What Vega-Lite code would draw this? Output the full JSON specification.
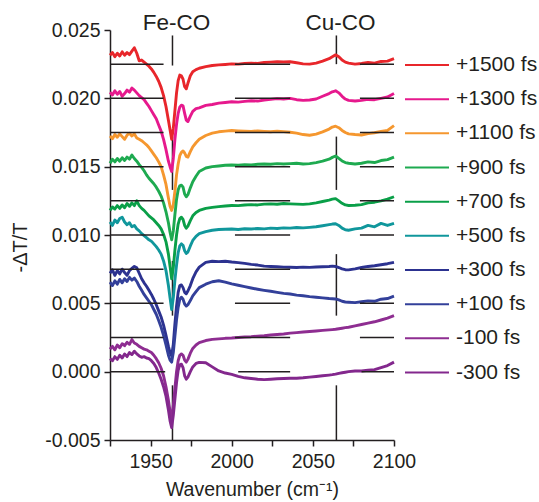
{
"$schema":"https://vega.github.io/schema/vega-lite/v6.json",
"width":284,"height":410,
"autosize":{"type":"none"},
"padding":{"left":110,"top":30,"right":145,"bottom":62},
"background":"white",
"config":{"view":{"stroke":null},"font":"Liberation Sans"},
"datasets":{
"vr":[{"w":1963.5,"a":0.0224,"b":0.0246},{"w":1963.5,"a":0.0133,"b":0.0172},{"w":1963.5,"a":0.0041,"b":0.0081},{"w":1963.5,"a":-0.005,"b":-0.001},{"w":2064.5,"a":0.0225,"b":0.0246},{"w":2064.5,"a":0.0133,"b":0.0172},{"w":2064.5,"a":0.0041,"b":0.0086},{"w":2064.5,"a":-0.005,"b":-0.001}],
"hr":[{"v":0.0225,"a":1925,"b":1958},{"v":0.0225,"a":2002,"b":2036},{"v":0.0225,"a":2079,"b":2100},
{"v":0.02,"a":1925,"b":1958},{"v":0.02,"a":2002,"b":2036},{"v":0.02,"a":2079,"b":2100},
{"v":0.0175,"a":1925,"b":1958},{"v":0.0175,"a":2002,"b":2036},{"v":0.0175,"a":2079,"b":2100},
{"v":0.015,"a":1925,"b":1958},{"v":0.015,"a":2002,"b":2036},{"v":0.015,"a":2079,"b":2100},
{"v":0.0125,"a":1925,"b":1958},{"v":0.0125,"a":2002,"b":2036},{"v":0.0125,"a":2079,"b":2100},
{"v":0.01,"a":1925,"b":1958},{"v":0.01,"a":2002,"b":2036},{"v":0.01,"a":2079,"b":2100},
{"v":0.0075,"a":1925,"b":1958},{"v":0.0075,"a":2002,"b":2036},{"v":0.0075,"a":2079,"b":2100},
{"v":0.005,"a":1925,"b":1958},{"v":0.005,"a":2002,"b":2036},{"v":0.005,"a":2079,"b":2100},
{"v":0.0025,"a":1925,"b":1958},{"v":0.0025,"a":2002,"b":2036},{"v":0.0025,"a":2079,"b":2100},
{"v":0.0,"a":1925,"b":1959},{"v":0.0,"a":2004,"b":2036},{"v":0.0,"a":2080,"b":2100}],
"lab":[{"t":"Fe-CO","w":1966,"v":0.025},{"t":"Cu-CO","w":2067,"v":0.025}],
"spec":[
{"s":"+1500 fs","w":1925,"v":0.02315},{"s":"+1500 fs","w":1926.5,"v":0.02335},{"s":"+1500 fs","w":1928,"v":0.02305},{"s":"+1500 fs","w":1929.5,"v":0.0233},{"s":"+1500 fs","w":1931,"v":0.0231},{"s":"+1500 fs","w":1932.5,"v":0.0234},{"s":"+1500 fs","w":1934,"v":0.02315},{"s":"+1500 fs","w":1935.5,"v":0.02335},{"s":"+1500 fs","w":1937,"v":0.0232},{"s":"+1500 fs","w":1938.5,"v":0.02345},{"s":"+1500 fs","w":1940,"v":0.0237},{"s":"+1500 fs","w":1941.5,"v":0.0233},{"s":"+1500 fs","w":1943,"v":0.02275},{"s":"+1500 fs","w":1944.5,"v":0.0228},{"s":"+1500 fs","w":1946,"v":0.02265},{"s":"+1500 fs","w":1947.5,"v":0.0225},{"s":"+1500 fs","w":1949,"v":0.02235},{"s":"+1500 fs","w":1950.5,"v":0.02215},{"s":"+1500 fs","w":1952,"v":0.0219},{"s":"+1500 fs","w":1953.5,"v":0.0216},{"s":"+1500 fs","w":1955,"v":0.02125},{"s":"+1500 fs","w":1956.5,"v":0.0208},
{"s":"+1500 fs","w":1958,"v":0.0202},{"s":"+1500 fs","w":1959.5,"v":0.0194},{"s":"+1500 fs","w":1961,"v":0.0184},{"s":"+1500 fs","w":1962,"v":0.0177},{"s":"+1500 fs","w":1963,"v":0.017},{"s":"+1500 fs","w":1964,"v":0.0178},{"s":"+1500 fs","w":1965,"v":0.0191},{"s":"+1500 fs","w":1966,"v":0.0204},{"s":"+1500 fs","w":1967,"v":0.0213},{"s":"+1500 fs","w":1968,"v":0.0217},{"s":"+1500 fs","w":1969,"v":0.02165},{"s":"+1500 fs","w":1970,"v":0.0214},{"s":"+1500 fs","w":1971,"v":0.02085},{"s":"+1500 fs","w":1972,"v":0.0207},{"s":"+1500 fs","w":1973,"v":0.0211},{"s":"+1500 fs","w":1974.5,"v":0.02165},{"s":"+1500 fs","w":1976,"v":0.02195},{"s":"+1500 fs","w":1978,"v":0.0221},
{"s":"+1500 fs","w":1980,"v":0.0222},{"s":"+1500 fs","w":1984,"v":0.02232},{"s":"+1500 fs","w":1988,"v":0.0224},{"s":"+1500 fs","w":1992,"v":0.02245},{"s":"+1500 fs","w":1996,"v":0.02248},{"s":"+1500 fs","w":2000,"v":0.02252},{"s":"+1500 fs","w":2004,"v":0.0225},{"s":"+1500 fs","w":2008,"v":0.02255},{"s":"+1500 fs","w":2012,"v":0.02258},{"s":"+1500 fs","w":2016,"v":0.02255},{"s":"+1500 fs","w":2020,"v":0.02262},{"s":"+1500 fs","w":2024,"v":0.02265},{"s":"+1500 fs","w":2028,"v":0.02268},{"s":"+1500 fs","w":2032,"v":0.02266},{"s":"+1500 fs","w":2036,"v":0.02268},{"s":"+1500 fs","w":2040,"v":0.0226},{"s":"+1500 fs","w":2044,"v":0.02252},{"s":"+1500 fs","w":2048,"v":0.0225},{"s":"+1500 fs","w":2052,"v":0.02258},{"s":"+1500 fs","w":2056,"v":0.02272},{"s":"+1500 fs","w":2060,"v":0.0229},
{"s":"+1500 fs","w":2062,"v":0.02305},{"s":"+1500 fs","w":2064,"v":0.02318},{"s":"+1500 fs","w":2066,"v":0.02305},{"s":"+1500 fs","w":2068,"v":0.0228},{"s":"+1500 fs","w":2070,"v":0.02265},{"s":"+1500 fs","w":2072,"v":0.02258},
{"s":"+1500 fs","w":2076,"v":0.0225},{"s":"+1500 fs","w":2080,"v":0.02255},{"s":"+1500 fs","w":2084,"v":0.02262},{"s":"+1500 fs","w":2088,"v":0.02258},{"s":"+1500 fs","w":2092,"v":0.0227},{"s":"+1500 fs","w":2096,"v":0.02272},{"s":"+1500 fs","w":2100,"v":0.0229},

{"s":"+1300 fs","w":1925,"v":0.02045},{"s":"+1300 fs","w":1926.5,"v":0.02025},{"s":"+1300 fs","w":1928,"v":0.02055},{"s":"+1300 fs","w":1929.5,"v":0.0203},{"s":"+1300 fs","w":1931,"v":0.0205},{"s":"+1300 fs","w":1932.5,"v":0.02015},{"s":"+1300 fs","w":1934,"v":0.02035},{"s":"+1300 fs","w":1935.5,"v":0.0206},{"s":"+1300 fs","w":1937,"v":0.02045},{"s":"+1300 fs","w":1938.5,"v":0.02075},{"s":"+1300 fs","w":1940,"v":0.0206},{"s":"+1300 fs","w":1941.5,"v":0.0204},{"s":"+1300 fs","w":1943,"v":0.0202},{"s":"+1300 fs","w":1944.5,"v":0.02005},{"s":"+1300 fs","w":1946,"v":0.0199},{"s":"+1300 fs","w":1947.5,"v":0.01965},{"s":"+1300 fs","w":1949,"v":0.0194},{"s":"+1300 fs","w":1950.5,"v":0.0191},{"s":"+1300 fs","w":1952,"v":0.0188},{"s":"+1300 fs","w":1953.5,"v":0.0185},{"s":"+1300 fs","w":1955,"v":0.01805},{"s":"+1300 fs","w":1956.5,"v":0.0176},
{"s":"+1300 fs","w":1958,"v":0.017},{"s":"+1300 fs","w":1959.5,"v":0.01625},{"s":"+1300 fs","w":1961,"v":0.0154},{"s":"+1300 fs","w":1962,"v":0.015},{"s":"+1300 fs","w":1963,"v":0.01465},{"s":"+1300 fs","w":1964,"v":0.0156},{"s":"+1300 fs","w":1965,"v":0.017},{"s":"+1300 fs","w":1966,"v":0.0181},{"s":"+1300 fs","w":1967,"v":0.0189},{"s":"+1300 fs","w":1968,"v":0.01935},{"s":"+1300 fs","w":1969,"v":0.0195},{"s":"+1300 fs","w":1970,"v":0.01945},{"s":"+1300 fs","w":1971,"v":0.0189},{"s":"+1300 fs","w":1972,"v":0.0184},{"s":"+1300 fs","w":1973,"v":0.0183},{"s":"+1300 fs","w":1974.5,"v":0.0187},{"s":"+1300 fs","w":1976,"v":0.01905},{"s":"+1300 fs","w":1978,"v":0.01925},
{"s":"+1300 fs","w":1980,"v":0.0193},{"s":"+1300 fs","w":1984,"v":0.01948},{"s":"+1300 fs","w":1988,"v":0.01955},{"s":"+1300 fs","w":1992,"v":0.01965},{"s":"+1300 fs","w":1996,"v":0.0197},{"s":"+1300 fs","w":2000,"v":0.01975},{"s":"+1300 fs","w":2004,"v":0.01972},{"s":"+1300 fs","w":2008,"v":0.01978},{"s":"+1300 fs","w":2012,"v":0.01982},{"s":"+1300 fs","w":2016,"v":0.0198},{"s":"+1300 fs","w":2020,"v":0.01988},{"s":"+1300 fs","w":2024,"v":0.01992},{"s":"+1300 fs","w":2028,"v":0.01998},{"s":"+1300 fs","w":2032,"v":0.01995},{"s":"+1300 fs","w":2036,"v":0.02},{"s":"+1300 fs","w":2040,"v":0.0199},{"s":"+1300 fs","w":2044,"v":0.01985},{"s":"+1300 fs","w":2048,"v":0.01988},{"s":"+1300 fs","w":2052,"v":0.01995},{"s":"+1300 fs","w":2056,"v":0.02015},{"s":"+1300 fs","w":2060,"v":0.02035},
{"s":"+1300 fs","w":2062,"v":0.02048},{"s":"+1300 fs","w":2064,"v":0.02055},{"s":"+1300 fs","w":2066,"v":0.0204},{"s":"+1300 fs","w":2068,"v":0.02015},{"s":"+1300 fs","w":2070,"v":0.01995},{"s":"+1300 fs","w":2072,"v":0.01985},
{"s":"+1300 fs","w":2076,"v":0.0198},{"s":"+1300 fs","w":2080,"v":0.01985},{"s":"+1300 fs","w":2084,"v":0.01992},{"s":"+1300 fs","w":2088,"v":0.0199},{"s":"+1300 fs","w":2092,"v":0.02},{"s":"+1300 fs","w":2096,"v":0.0201},{"s":"+1300 fs","w":2100,"v":0.02035},

{"s":"+1100 fs","w":1925,"v":0.01725},{"s":"+1100 fs","w":1926.5,"v":0.01705},{"s":"+1100 fs","w":1928,"v":0.01735},{"s":"+1100 fs","w":1929.5,"v":0.01715},{"s":"+1100 fs","w":1931,"v":0.0174},{"s":"+1100 fs","w":1932.5,"v":0.0172},{"s":"+1100 fs","w":1934,"v":0.017},{"s":"+1100 fs","w":1935.5,"v":0.0173},{"s":"+1100 fs","w":1937,"v":0.01745},{"s":"+1100 fs","w":1938.5,"v":0.01725},{"s":"+1100 fs","w":1940,"v":0.0174},{"s":"+1100 fs","w":1941.5,"v":0.0171},{"s":"+1100 fs","w":1943,"v":0.017},{"s":"+1100 fs","w":1944.5,"v":0.0169},{"s":"+1100 fs","w":1946,"v":0.01675},{"s":"+1100 fs","w":1947.5,"v":0.0166},{"s":"+1100 fs","w":1949,"v":0.0164},{"s":"+1100 fs","w":1950.5,"v":0.01615},{"s":"+1100 fs","w":1952,"v":0.0159},{"s":"+1100 fs","w":1953.5,"v":0.01565},{"s":"+1100 fs","w":1955,"v":0.01535},{"s":"+1100 fs","w":1956.5,"v":0.015},
{"s":"+1100 fs","w":1958,"v":0.0144},{"s":"+1100 fs","w":1959.5,"v":0.0137},{"s":"+1100 fs","w":1961,"v":0.0127},{"s":"+1100 fs","w":1962,"v":0.0121},{"s":"+1100 fs","w":1963,"v":0.0118},{"s":"+1100 fs","w":1964,"v":0.0122},{"s":"+1100 fs","w":1965,"v":0.0132},{"s":"+1100 fs","w":1966,"v":0.0144},{"s":"+1100 fs","w":1967,"v":0.0152},{"s":"+1100 fs","w":1968,"v":0.0158},{"s":"+1100 fs","w":1969,"v":0.01605},{"s":"+1100 fs","w":1970,"v":0.01615},{"s":"+1100 fs","w":1971,"v":0.016},{"s":"+1100 fs","w":1972,"v":0.01575},{"s":"+1100 fs","w":1973,"v":0.0157},{"s":"+1100 fs","w":1974.5,"v":0.0161},{"s":"+1100 fs","w":1976,"v":0.01645},{"s":"+1100 fs","w":1978,"v":0.01675},
{"s":"+1100 fs","w":1980,"v":0.017},{"s":"+1100 fs","w":1984,"v":0.01728},{"s":"+1100 fs","w":1988,"v":0.01745},{"s":"+1100 fs","w":1992,"v":0.01755},{"s":"+1100 fs","w":1996,"v":0.0176},{"s":"+1100 fs","w":2000,"v":0.01765},{"s":"+1100 fs","w":2004,"v":0.01762},{"s":"+1100 fs","w":2008,"v":0.0176},{"s":"+1100 fs","w":2012,"v":0.01758},{"s":"+1100 fs","w":2016,"v":0.01762},{"s":"+1100 fs","w":2020,"v":0.01758},{"s":"+1100 fs","w":2024,"v":0.01755},{"s":"+1100 fs","w":2028,"v":0.0176},{"s":"+1100 fs","w":2032,"v":0.01756},{"s":"+1100 fs","w":2036,"v":0.01752},{"s":"+1100 fs","w":2040,"v":0.01745},{"s":"+1100 fs","w":2044,"v":0.01735},{"s":"+1100 fs","w":2048,"v":0.0173},{"s":"+1100 fs","w":2052,"v":0.01738},{"s":"+1100 fs","w":2056,"v":0.01755},{"s":"+1100 fs","w":2060,"v":0.01775},
{"s":"+1100 fs","w":2062,"v":0.0179},{"s":"+1100 fs","w":2064,"v":0.01796},{"s":"+1100 fs","w":2066,"v":0.01785},{"s":"+1100 fs","w":2068,"v":0.01765},{"s":"+1100 fs","w":2070,"v":0.0175},{"s":"+1100 fs","w":2072,"v":0.0174},
{"s":"+1100 fs","w":2076,"v":0.01735},{"s":"+1100 fs","w":2080,"v":0.01732},{"s":"+1100 fs","w":2084,"v":0.01742},{"s":"+1100 fs","w":2088,"v":0.01748},{"s":"+1100 fs","w":2092,"v":0.01758},{"s":"+1100 fs","w":2096,"v":0.01765},{"s":"+1100 fs","w":2100,"v":0.018},

{"s":"+900 fs","w":1925,"v":0.01525},{"s":"+900 fs","w":1926.5,"v":0.01555},{"s":"+900 fs","w":1928,"v":0.01535},{"s":"+900 fs","w":1929.5,"v":0.0156},{"s":"+900 fs","w":1931,"v":0.0154},{"s":"+900 fs","w":1932.5,"v":0.01565},{"s":"+900 fs","w":1934,"v":0.01545},{"s":"+900 fs","w":1935.5,"v":0.0157},{"s":"+900 fs","w":1937,"v":0.01555},{"s":"+900 fs","w":1938.5,"v":0.01585},{"s":"+900 fs","w":1940,"v":0.0156},{"s":"+900 fs","w":1941.5,"v":0.0154},{"s":"+900 fs","w":1943,"v":0.01515},{"s":"+900 fs","w":1944.5,"v":0.01495},{"s":"+900 fs","w":1946,"v":0.0147},{"s":"+900 fs","w":1947.5,"v":0.0144},{"s":"+900 fs","w":1949,"v":0.01415},{"s":"+900 fs","w":1950.5,"v":0.01395},{"s":"+900 fs","w":1952,"v":0.01375},{"s":"+900 fs","w":1953.5,"v":0.0135},{"s":"+900 fs","w":1955,"v":0.0132},{"s":"+900 fs","w":1956.5,"v":0.01285},
{"s":"+900 fs","w":1958,"v":0.01235},{"s":"+900 fs","w":1959.5,"v":0.0117},{"s":"+900 fs","w":1961,"v":0.0109},{"s":"+900 fs","w":1962,"v":0.0102},{"s":"+900 fs","w":1963,"v":0.00965},{"s":"+900 fs","w":1964,"v":0.0103},{"s":"+900 fs","w":1965,"v":0.0115},{"s":"+900 fs","w":1966,"v":0.0126},{"s":"+900 fs","w":1967,"v":0.0133},{"s":"+900 fs","w":1968,"v":0.0136},{"s":"+900 fs","w":1969,"v":0.01365},{"s":"+900 fs","w":1970,"v":0.0135},{"s":"+900 fs","w":1971,"v":0.013},{"s":"+900 fs","w":1972,"v":0.0128},{"s":"+900 fs","w":1973,"v":0.01295},{"s":"+900 fs","w":1974.5,"v":0.01345},{"s":"+900 fs","w":1976,"v":0.0139},{"s":"+900 fs","w":1978,"v":0.0143},
{"s":"+900 fs","w":1980,"v":0.01465},{"s":"+900 fs","w":1984,"v":0.0149},{"s":"+900 fs","w":1988,"v":0.015},{"s":"+900 fs","w":1992,"v":0.01505},{"s":"+900 fs","w":1996,"v":0.0151},{"s":"+900 fs","w":2000,"v":0.01512},{"s":"+900 fs","w":2004,"v":0.0151},{"s":"+900 fs","w":2008,"v":0.01515},{"s":"+900 fs","w":2012,"v":0.01512},{"s":"+900 fs","w":2016,"v":0.01518},{"s":"+900 fs","w":2020,"v":0.0152},{"s":"+900 fs","w":2024,"v":0.01518},{"s":"+900 fs","w":2028,"v":0.01522},{"s":"+900 fs","w":2032,"v":0.0152},{"s":"+900 fs","w":2036,"v":0.01522},{"s":"+900 fs","w":2040,"v":0.01525},{"s":"+900 fs","w":2044,"v":0.0152},{"s":"+900 fs","w":2048,"v":0.01522},{"s":"+900 fs","w":2052,"v":0.0153},{"s":"+900 fs","w":2056,"v":0.0154},{"s":"+900 fs","w":2060,"v":0.01555},
{"s":"+900 fs","w":2062,"v":0.01568},{"s":"+900 fs","w":2064,"v":0.01578},{"s":"+900 fs","w":2066,"v":0.0156},{"s":"+900 fs","w":2068,"v":0.01542},{"s":"+900 fs","w":2070,"v":0.0153},{"s":"+900 fs","w":2072,"v":0.01525},
{"s":"+900 fs","w":2076,"v":0.0152},{"s":"+900 fs","w":2080,"v":0.01525},{"s":"+900 fs","w":2084,"v":0.01535},{"s":"+900 fs","w":2088,"v":0.0153},{"s":"+900 fs","w":2092,"v":0.01545},{"s":"+900 fs","w":2096,"v":0.01552},{"s":"+900 fs","w":2100,"v":0.0157},

{"s":"+700 fs","w":1925,"v":0.0118},{"s":"+700 fs","w":1926.5,"v":0.01205},{"s":"+700 fs","w":1928,"v":0.0119},{"s":"+700 fs","w":1929.5,"v":0.01215},{"s":"+700 fs","w":1931,"v":0.01195},{"s":"+700 fs","w":1932.5,"v":0.0122},{"s":"+700 fs","w":1934,"v":0.012},{"s":"+700 fs","w":1935.5,"v":0.0123},{"s":"+700 fs","w":1937,"v":0.0121},{"s":"+700 fs","w":1938.5,"v":0.01235},{"s":"+700 fs","w":1940,"v":0.01215},{"s":"+700 fs","w":1941.5,"v":0.0125},{"s":"+700 fs","w":1943,"v":0.01215},{"s":"+700 fs","w":1944.5,"v":0.01195},{"s":"+700 fs","w":1946,"v":0.0118},{"s":"+700 fs","w":1947.5,"v":0.0116},{"s":"+700 fs","w":1949,"v":0.0114},{"s":"+700 fs","w":1950.5,"v":0.01125},{"s":"+700 fs","w":1952,"v":0.0111},{"s":"+700 fs","w":1953.5,"v":0.0109},{"s":"+700 fs","w":1955,"v":0.0107},{"s":"+700 fs","w":1956.5,"v":0.01045},
{"s":"+700 fs","w":1958,"v":0.01005},{"s":"+700 fs","w":1959.5,"v":0.0095},{"s":"+700 fs","w":1961,"v":0.0086},{"s":"+700 fs","w":1962,"v":0.0077},{"s":"+700 fs","w":1963,"v":0.0068},{"s":"+700 fs","w":1964,"v":0.0076},{"s":"+700 fs","w":1965,"v":0.0089},{"s":"+700 fs","w":1966,"v":0.01},{"s":"+700 fs","w":1967,"v":0.0108},{"s":"+700 fs","w":1968,"v":0.0112},{"s":"+700 fs","w":1969,"v":0.0113},{"s":"+700 fs","w":1970,"v":0.01115},{"s":"+700 fs","w":1971,"v":0.0107},{"s":"+700 fs","w":1972,"v":0.0105},{"s":"+700 fs","w":1973,"v":0.01065},{"s":"+700 fs","w":1974.5,"v":0.01105},{"s":"+700 fs","w":1976,"v":0.0114},{"s":"+700 fs","w":1978,"v":0.01165},
{"s":"+700 fs","w":1980,"v":0.0118},{"s":"+700 fs","w":1984,"v":0.01195},{"s":"+700 fs","w":1988,"v":0.01202},{"s":"+700 fs","w":1992,"v":0.01208},{"s":"+700 fs","w":1996,"v":0.01212},{"s":"+700 fs","w":2000,"v":0.01216},{"s":"+700 fs","w":2004,"v":0.01215},{"s":"+700 fs","w":2008,"v":0.0122},{"s":"+700 fs","w":2012,"v":0.01222},{"s":"+700 fs","w":2016,"v":0.0122},{"s":"+700 fs","w":2020,"v":0.01226},{"s":"+700 fs","w":2024,"v":0.01228},{"s":"+700 fs","w":2028,"v":0.01225},{"s":"+700 fs","w":2032,"v":0.0123},{"s":"+700 fs","w":2036,"v":0.01228},{"s":"+700 fs","w":2040,"v":0.01226},{"s":"+700 fs","w":2044,"v":0.01224},{"s":"+700 fs","w":2048,"v":0.01228},{"s":"+700 fs","w":2052,"v":0.01235},{"s":"+700 fs","w":2056,"v":0.01245},{"s":"+700 fs","w":2060,"v":0.01255},
{"s":"+700 fs","w":2062,"v":0.01262},{"s":"+700 fs","w":2064,"v":0.01266},{"s":"+700 fs","w":2066,"v":0.0125},{"s":"+700 fs","w":2068,"v":0.01232},{"s":"+700 fs","w":2070,"v":0.0122},{"s":"+700 fs","w":2072,"v":0.01216},
{"s":"+700 fs","w":2076,"v":0.01218},{"s":"+700 fs","w":2080,"v":0.01222},{"s":"+700 fs","w":2084,"v":0.01235},{"s":"+700 fs","w":2088,"v":0.0124},{"s":"+700 fs","w":2092,"v":0.0125},{"s":"+700 fs","w":2096,"v":0.01262},{"s":"+700 fs","w":2100,"v":0.0128},

{"s":"+500 fs","w":1925,"v":0.01095},{"s":"+500 fs","w":1926.5,"v":0.0107},{"s":"+500 fs","w":1928,"v":0.0111},{"s":"+500 fs","w":1929.5,"v":0.0109},{"s":"+500 fs","w":1931,"v":0.0112},{"s":"+500 fs","w":1932.5,"v":0.0113},{"s":"+500 fs","w":1934,"v":0.01095},{"s":"+500 fs","w":1935.5,"v":0.01075},{"s":"+500 fs","w":1937,"v":0.0109},{"s":"+500 fs","w":1938.5,"v":0.0106},{"s":"+500 fs","w":1940,"v":0.0107},{"s":"+500 fs","w":1941.5,"v":0.01045},{"s":"+500 fs","w":1943,"v":0.0103},{"s":"+500 fs","w":1944.5,"v":0.0101},{"s":"+500 fs","w":1946,"v":0.00995},{"s":"+500 fs","w":1947.5,"v":0.0098},{"s":"+500 fs","w":1949,"v":0.00965},{"s":"+500 fs","w":1950.5,"v":0.00955},{"s":"+500 fs","w":1952,"v":0.00935},{"s":"+500 fs","w":1953.5,"v":0.00915},{"s":"+500 fs","w":1955,"v":0.0089},{"s":"+500 fs","w":1956.5,"v":0.0086},
{"s":"+500 fs","w":1958,"v":0.0081},{"s":"+500 fs","w":1959.5,"v":0.0074},{"s":"+500 fs","w":1961,"v":0.0063},{"s":"+500 fs","w":1962,"v":0.0054},{"s":"+500 fs","w":1963,"v":0.00455},{"s":"+500 fs","w":1964,"v":0.0054},{"s":"+500 fs","w":1965,"v":0.0067},{"s":"+500 fs","w":1966,"v":0.0078},{"s":"+500 fs","w":1967,"v":0.0087},{"s":"+500 fs","w":1968,"v":0.0092},{"s":"+500 fs","w":1969,"v":0.00935},{"s":"+500 fs","w":1970,"v":0.00925},{"s":"+500 fs","w":1971,"v":0.00885},{"s":"+500 fs","w":1972,"v":0.00865},{"s":"+500 fs","w":1973,"v":0.00875},{"s":"+500 fs","w":1974.5,"v":0.0092},{"s":"+500 fs","w":1976,"v":0.0096},{"s":"+500 fs","w":1978,"v":0.0099},
{"s":"+500 fs","w":1980,"v":0.0101},{"s":"+500 fs","w":1984,"v":0.01025},{"s":"+500 fs","w":1988,"v":0.01035},{"s":"+500 fs","w":1992,"v":0.0104},{"s":"+500 fs","w":1996,"v":0.01042},{"s":"+500 fs","w":2000,"v":0.01044},{"s":"+500 fs","w":2004,"v":0.0104},{"s":"+500 fs","w":2008,"v":0.01046},{"s":"+500 fs","w":2012,"v":0.01044},{"s":"+500 fs","w":2016,"v":0.01048},{"s":"+500 fs","w":2020,"v":0.01045},{"s":"+500 fs","w":2024,"v":0.0105},{"s":"+500 fs","w":2028,"v":0.01048},{"s":"+500 fs","w":2032,"v":0.01052},{"s":"+500 fs","w":2036,"v":0.0105},{"s":"+500 fs","w":2040,"v":0.01055},{"s":"+500 fs","w":2044,"v":0.01052},{"s":"+500 fs","w":2048,"v":0.01056},{"s":"+500 fs","w":2052,"v":0.0106},{"s":"+500 fs","w":2056,"v":0.01068},{"s":"+500 fs","w":2060,"v":0.01076},
{"s":"+500 fs","w":2062,"v":0.0108},{"s":"+500 fs","w":2064,"v":0.01082},{"s":"+500 fs","w":2066,"v":0.0107},{"s":"+500 fs","w":2068,"v":0.0105},{"s":"+500 fs","w":2070,"v":0.01038},{"s":"+500 fs","w":2072,"v":0.01035},
{"s":"+500 fs","w":2076,"v":0.01045},{"s":"+500 fs","w":2080,"v":0.0105},{"s":"+500 fs","w":2084,"v":0.0107},{"s":"+500 fs","w":2088,"v":0.0106},{"s":"+500 fs","w":2092,"v":0.01085},{"s":"+500 fs","w":2096,"v":0.0107},{"s":"+500 fs","w":2100,"v":0.01085},

{"s":"+300 fs","w":1925,"v":0.0072},{"s":"+300 fs","w":1926.5,"v":0.00745},{"s":"+300 fs","w":1928,"v":0.00705},{"s":"+300 fs","w":1929.5,"v":0.0074},{"s":"+300 fs","w":1931,"v":0.00715},{"s":"+300 fs","w":1932.5,"v":0.0075},{"s":"+300 fs","w":1934,"v":0.00725},{"s":"+300 fs","w":1935.5,"v":0.00705},{"s":"+300 fs","w":1937,"v":0.0074},{"s":"+300 fs","w":1938.5,"v":0.00755},{"s":"+300 fs","w":1940,"v":0.0077},{"s":"+300 fs","w":1941.5,"v":0.0076},{"s":"+300 fs","w":1943,"v":0.0072},{"s":"+300 fs","w":1944.5,"v":0.0068},{"s":"+300 fs","w":1946,"v":0.0065},{"s":"+300 fs","w":1947.5,"v":0.00625},{"s":"+300 fs","w":1949,"v":0.00595},{"s":"+300 fs","w":1950.5,"v":0.00565},{"s":"+300 fs","w":1952,"v":0.0053},{"s":"+300 fs","w":1953.5,"v":0.0049},{"s":"+300 fs","w":1955,"v":0.00445},{"s":"+300 fs","w":1956.5,"v":0.004},
{"s":"+300 fs","w":1958,"v":0.0034},{"s":"+300 fs","w":1959.5,"v":0.00265},{"s":"+300 fs","w":1961,"v":0.00185},{"s":"+300 fs","w":1962,"v":0.0014},{"s":"+300 fs","w":1963,"v":0.00115},{"s":"+300 fs","w":1964,"v":0.002},{"s":"+300 fs","w":1965,"v":0.0035},{"s":"+300 fs","w":1966,"v":0.0048},{"s":"+300 fs","w":1967,"v":0.0058},{"s":"+300 fs","w":1968,"v":0.0063},{"s":"+300 fs","w":1969,"v":0.00635},{"s":"+300 fs","w":1970,"v":0.00615},{"s":"+300 fs","w":1971,"v":0.0058},{"s":"+300 fs","w":1972,"v":0.0057},{"s":"+300 fs","w":1973,"v":0.0059},{"s":"+300 fs","w":1974.5,"v":0.0063},{"s":"+300 fs","w":1976,"v":0.0068},{"s":"+300 fs","w":1978,"v":0.0073},
{"s":"+300 fs","w":1980,"v":0.00765},{"s":"+300 fs","w":1984,"v":0.008},{"s":"+300 fs","w":1988,"v":0.00808},{"s":"+300 fs","w":1992,"v":0.00805},{"s":"+300 fs","w":1996,"v":0.00808},{"s":"+300 fs","w":2000,"v":0.00802},{"s":"+300 fs","w":2004,"v":0.00798},{"s":"+300 fs","w":2008,"v":0.00792},{"s":"+300 fs","w":2012,"v":0.00785},{"s":"+300 fs","w":2016,"v":0.0078},{"s":"+300 fs","w":2020,"v":0.00772},{"s":"+300 fs","w":2024,"v":0.0077},{"s":"+300 fs","w":2028,"v":0.00768},{"s":"+300 fs","w":2032,"v":0.00765},{"s":"+300 fs","w":2036,"v":0.00764},{"s":"+300 fs","w":2040,"v":0.00762},{"s":"+300 fs","w":2044,"v":0.00765},{"s":"+300 fs","w":2048,"v":0.00763},{"s":"+300 fs","w":2052,"v":0.00766},{"s":"+300 fs","w":2056,"v":0.00768},{"s":"+300 fs","w":2060,"v":0.0077},
{"s":"+300 fs","w":2062,"v":0.00772},{"s":"+300 fs","w":2064,"v":0.0077},{"s":"+300 fs","w":2066,"v":0.00762},{"s":"+300 fs","w":2068,"v":0.00752},{"s":"+300 fs","w":2070,"v":0.00746},{"s":"+300 fs","w":2072,"v":0.00745},
{"s":"+300 fs","w":2076,"v":0.00752},{"s":"+300 fs","w":2080,"v":0.00762},{"s":"+300 fs","w":2084,"v":0.0077},{"s":"+300 fs","w":2088,"v":0.00775},{"s":"+300 fs","w":2092,"v":0.00782},{"s":"+300 fs","w":2096,"v":0.0079},{"s":"+300 fs","w":2100,"v":0.008},

{"s":"+100 fs","w":1925,"v":0.00655},{"s":"+100 fs","w":1926.5,"v":0.0063},{"s":"+100 fs","w":1928,"v":0.00665},{"s":"+100 fs","w":1929.5,"v":0.0064},{"s":"+100 fs","w":1931,"v":0.00675},{"s":"+100 fs","w":1932.5,"v":0.0065},{"s":"+100 fs","w":1934,"v":0.0068},{"s":"+100 fs","w":1935.5,"v":0.0066},{"s":"+100 fs","w":1937,"v":0.0069},{"s":"+100 fs","w":1938.5,"v":0.0067},{"s":"+100 fs","w":1940,"v":0.00685},{"s":"+100 fs","w":1941.5,"v":0.0066},{"s":"+100 fs","w":1943,"v":0.00625},{"s":"+100 fs","w":1944.5,"v":0.00595},{"s":"+100 fs","w":1946,"v":0.00565},{"s":"+100 fs","w":1947.5,"v":0.0054},{"s":"+100 fs","w":1949,"v":0.00515},{"s":"+100 fs","w":1950.5,"v":0.0049},{"s":"+100 fs","w":1952,"v":0.00455},{"s":"+100 fs","w":1953.5,"v":0.0042},{"s":"+100 fs","w":1955,"v":0.00375},{"s":"+100 fs","w":1956.5,"v":0.00325},
{"s":"+100 fs","w":1958,"v":0.00265},{"s":"+100 fs","w":1959.5,"v":0.00195},{"s":"+100 fs","w":1961,"v":0.0012},{"s":"+100 fs","w":1962,"v":0.00085},{"s":"+100 fs","w":1963,"v":0.0007},{"s":"+100 fs","w":1964,"v":0.0014},{"s":"+100 fs","w":1965,"v":0.0026},{"s":"+100 fs","w":1966,"v":0.0038},{"s":"+100 fs","w":1967,"v":0.0047},{"s":"+100 fs","w":1968,"v":0.0053},{"s":"+100 fs","w":1969,"v":0.00545},{"s":"+100 fs","w":1970,"v":0.0053},{"s":"+100 fs","w":1971,"v":0.00495},{"s":"+100 fs","w":1972,"v":0.0048},{"s":"+100 fs","w":1973,"v":0.0049},{"s":"+100 fs","w":1974.5,"v":0.0052},{"s":"+100 fs","w":1976,"v":0.00555},{"s":"+100 fs","w":1978,"v":0.00585},
{"s":"+100 fs","w":1980,"v":0.00615},{"s":"+100 fs","w":1984,"v":0.0064},{"s":"+100 fs","w":1988,"v":0.00658},{"s":"+100 fs","w":1992,"v":0.00665},{"s":"+100 fs","w":1996,"v":0.00655},{"s":"+100 fs","w":2000,"v":0.00642},{"s":"+100 fs","w":2004,"v":0.00632},{"s":"+100 fs","w":2008,"v":0.00622},{"s":"+100 fs","w":2012,"v":0.00612},{"s":"+100 fs","w":2016,"v":0.00603},{"s":"+100 fs","w":2020,"v":0.00595},{"s":"+100 fs","w":2024,"v":0.00588},{"s":"+100 fs","w":2028,"v":0.0058},{"s":"+100 fs","w":2032,"v":0.00573},{"s":"+100 fs","w":2036,"v":0.00568},{"s":"+100 fs","w":2040,"v":0.0056},{"s":"+100 fs","w":2044,"v":0.00555},{"s":"+100 fs","w":2048,"v":0.00549},{"s":"+100 fs","w":2052,"v":0.00545},{"s":"+100 fs","w":2056,"v":0.0054},{"s":"+100 fs","w":2060,"v":0.00535},
{"s":"+100 fs","w":2062,"v":0.00534},{"s":"+100 fs","w":2064,"v":0.00532},{"s":"+100 fs","w":2066,"v":0.00525},{"s":"+100 fs","w":2068,"v":0.00515},{"s":"+100 fs","w":2070,"v":0.0051},{"s":"+100 fs","w":2072,"v":0.00508},
{"s":"+100 fs","w":2076,"v":0.00505},{"s":"+100 fs","w":2080,"v":0.00512},{"s":"+100 fs","w":2084,"v":0.00518},{"s":"+100 fs","w":2088,"v":0.00515},{"s":"+100 fs","w":2092,"v":0.0053},{"s":"+100 fs","w":2096,"v":0.00535},{"s":"+100 fs","w":2100,"v":0.00552},

{"s":"-100 fs","w":1925,"v":0.00165},{"s":"-100 fs","w":1926.5,"v":0.00185},{"s":"-100 fs","w":1928,"v":0.0016},{"s":"-100 fs","w":1929.5,"v":0.00195},{"s":"-100 fs","w":1931,"v":0.00175},{"s":"-100 fs","w":1932.5,"v":0.00205},{"s":"-100 fs","w":1934,"v":0.0019},{"s":"-100 fs","w":1935.5,"v":0.00215},{"s":"-100 fs","w":1937,"v":0.002},{"s":"-100 fs","w":1938.5,"v":0.00235},{"s":"-100 fs","w":1940,"v":0.0021},{"s":"-100 fs","w":1941.5,"v":0.002},{"s":"-100 fs","w":1943,"v":0.00185},{"s":"-100 fs","w":1944.5,"v":0.00175},{"s":"-100 fs","w":1946,"v":0.00165},{"s":"-100 fs","w":1947.5,"v":0.0016},{"s":"-100 fs","w":1949,"v":0.0015},{"s":"-100 fs","w":1950.5,"v":0.0014},{"s":"-100 fs","w":1952,"v":0.0012},{"s":"-100 fs","w":1953.5,"v":0.00095},{"s":"-100 fs","w":1955,"v":0.00065},{"s":"-100 fs","w":1956.5,"v":0.00025},
{"s":"-100 fs","w":1958,"v":-0.0003},{"s":"-100 fs","w":1959.5,"v":-0.0011},{"s":"-100 fs","w":1961,"v":-0.0021},{"s":"-100 fs","w":1962,"v":-0.0029},{"s":"-100 fs","w":1963,"v":-0.0034},{"s":"-100 fs","w":1964,"v":-0.0025},{"s":"-100 fs","w":1965,"v":-0.0012},{"s":"-100 fs","w":1966,"v":0.0},{"s":"-100 fs","w":1967,"v":0.0008},{"s":"-100 fs","w":1968,"v":0.0012},{"s":"-100 fs","w":1969,"v":0.0013},{"s":"-100 fs","w":1970,"v":0.0012},{"s":"-100 fs","w":1971,"v":0.00085},{"s":"-100 fs","w":1972,"v":0.0007},{"s":"-100 fs","w":1973,"v":0.0009},{"s":"-100 fs","w":1974.5,"v":0.00135},{"s":"-100 fs","w":1976,"v":0.0017},{"s":"-100 fs","w":1978,"v":0.00195},
{"s":"-100 fs","w":1980,"v":0.00212},{"s":"-100 fs","w":1984,"v":0.00228},{"s":"-100 fs","w":1988,"v":0.00236},{"s":"-100 fs","w":1992,"v":0.0024},{"s":"-100 fs","w":1996,"v":0.00244},{"s":"-100 fs","w":2000,"v":0.00246},{"s":"-100 fs","w":2004,"v":0.0025},{"s":"-100 fs","w":2008,"v":0.00254},{"s":"-100 fs","w":2012,"v":0.00256},{"s":"-100 fs","w":2016,"v":0.0026},{"s":"-100 fs","w":2020,"v":0.00263},{"s":"-100 fs","w":2024,"v":0.00268},{"s":"-100 fs","w":2028,"v":0.00272},{"s":"-100 fs","w":2032,"v":0.00276},{"s":"-100 fs","w":2036,"v":0.00282},{"s":"-100 fs","w":2040,"v":0.00286},{"s":"-100 fs","w":2044,"v":0.0029},{"s":"-100 fs","w":2048,"v":0.00294},{"s":"-100 fs","w":2052,"v":0.00298},{"s":"-100 fs","w":2056,"v":0.00302},{"s":"-100 fs","w":2060,"v":0.00306},
{"s":"-100 fs","w":2062,"v":0.00308},{"s":"-100 fs","w":2064,"v":0.0031},{"s":"-100 fs","w":2066,"v":0.00314},{"s":"-100 fs","w":2068,"v":0.00318},{"s":"-100 fs","w":2070,"v":0.00322},{"s":"-100 fs","w":2072,"v":0.00325},
{"s":"-100 fs","w":2076,"v":0.00335},{"s":"-100 fs","w":2080,"v":0.00345},{"s":"-100 fs","w":2084,"v":0.00355},{"s":"-100 fs","w":2088,"v":0.00365},{"s":"-100 fs","w":2092,"v":0.00378},{"s":"-100 fs","w":2096,"v":0.00392},{"s":"-100 fs","w":2100,"v":0.0041},

{"s":"-300 fs","w":1925,"v":0.00095},{"s":"-300 fs","w":1926.5,"v":0.0008},{"s":"-300 fs","w":1928,"v":0.0011},{"s":"-300 fs","w":1929.5,"v":0.0009},{"s":"-300 fs","w":1931,"v":0.0012},{"s":"-300 fs","w":1932.5,"v":0.001},{"s":"-300 fs","w":1934,"v":0.0013},{"s":"-300 fs","w":1935.5,"v":0.0011},{"s":"-300 fs","w":1937,"v":0.0014},{"s":"-300 fs","w":1938.5,"v":0.00125},{"s":"-300 fs","w":1940,"v":0.0015},{"s":"-300 fs","w":1941.5,"v":0.0013},{"s":"-300 fs","w":1943,"v":0.00115},{"s":"-300 fs","w":1944.5,"v":0.00105},{"s":"-300 fs","w":1946,"v":0.0011},{"s":"-300 fs","w":1947.5,"v":0.001},{"s":"-300 fs","w":1949,"v":0.00095},{"s":"-300 fs","w":1950.5,"v":0.0008},{"s":"-300 fs","w":1952,"v":0.0006},{"s":"-300 fs","w":1953.5,"v":0.0003},{"s":"-300 fs","w":1955,"v":-0.0001},{"s":"-300 fs","w":1956.5,"v":-0.00055},
{"s":"-300 fs","w":1958,"v":-0.0011},{"s":"-300 fs","w":1959.5,"v":-0.0018},{"s":"-300 fs","w":1961,"v":-0.0028},{"s":"-300 fs","w":1962,"v":-0.0036},{"s":"-300 fs","w":1963,"v":-0.0041},{"s":"-300 fs","w":1964,"v":-0.0032},{"s":"-300 fs","w":1965,"v":-0.002},{"s":"-300 fs","w":1966,"v":-0.0008},{"s":"-300 fs","w":1967,"v":0.0001},{"s":"-300 fs","w":1968,"v":0.0005},{"s":"-300 fs","w":1969,"v":0.00055},{"s":"-300 fs","w":1970,"v":0.0003},{"s":"-300 fs","w":1971,"v":-0.0003},{"s":"-300 fs","w":1972,"v":-0.00055},{"s":"-300 fs","w":1973,"v":-0.0004},{"s":"-300 fs","w":1974.5,"v":0.0},{"s":"-300 fs","w":1976,"v":0.00035},{"s":"-300 fs","w":1978,"v":0.0006},
{"s":"-300 fs","w":1980,"v":0.00068},{"s":"-300 fs","w":1984,"v":0.00065},{"s":"-300 fs","w":1988,"v":0.00035},{"s":"-300 fs","w":1992,"v":0.00005},{"s":"-300 fs","w":1996,"v":-0.0001},{"s":"-300 fs","w":2000,"v":-0.0002},{"s":"-300 fs","w":2004,"v":-0.00035},{"s":"-300 fs","w":2008,"v":-0.00045},{"s":"-300 fs","w":2012,"v":-0.0005},{"s":"-300 fs","w":2016,"v":-0.00055},{"s":"-300 fs","w":2020,"v":-0.00058},{"s":"-300 fs","w":2024,"v":-0.00055},{"s":"-300 fs","w":2028,"v":-0.00052},{"s":"-300 fs","w":2032,"v":-0.0005},{"s":"-300 fs","w":2036,"v":-0.00048},{"s":"-300 fs","w":2040,"v":-0.00048},{"s":"-300 fs","w":2044,"v":-0.00045},{"s":"-300 fs","w":2048,"v":-0.0004},{"s":"-300 fs","w":2052,"v":-0.00035},{"s":"-300 fs","w":2056,"v":-0.0003},{"s":"-300 fs","w":2060,"v":-0.00025},
{"s":"-300 fs","w":2062,"v":-0.00022},{"s":"-300 fs","w":2064,"v":-0.00018},{"s":"-300 fs","w":2066,"v":-0.00012},{"s":"-300 fs","w":2068,"v":-0.00008},{"s":"-300 fs","w":2070,"v":-0.00004},{"s":"-300 fs","w":2072,"v":0.0},
{"s":"-300 fs","w":2076,"v":0.00005},{"s":"-300 fs","w":2080,"v":0.00005},{"s":"-300 fs","w":2084,"v":0.0001},{"s":"-300 fs","w":2088,"v":0.00015},{"s":"-300 fs","w":2092,"v":0.0003},{"s":"-300 fs","w":2096,"v":0.00045},{"s":"-300 fs","w":2100,"v":0.0007}
]},
"layer":[
{"data":{"name":"vr"},"mark":{"type":"rule","color":"#231f20","strokeWidth":1.5},
 "encoding":{"x":{"field":"w","type":"quantitative","scale":{"domain":[1925,2100],"nice":false,"zero":false},"title":"Wavenumber (cm⁻¹)"},
  "y":{"field":"a","type":"quantitative","scale":{"domain":[-0.005,0.025],"nice":false,"zero":false},"title":"-ΔT/T"},"y2":{"field":"b"}}},
{"data":{"name":"spec"},"mark":{"type":"line","strokeWidth":2.9,"strokeJoin":"round"},
 "encoding":{
  "x":{"field":"w","type":"quantitative","title":"Wavenumber (cm⁻¹)","axis":{"values":[1925,1950,1975,2000,2025,2050,2075,2100],"format":"d","labelExpr":"datum.value % 50 == 0 ? datum.label : ''","tickSize":6,"labelPadding":6,"labelFontSize":19.5,"labelFont":"Liberation Sans","titleFont":"Liberation Sans","titleFontSize":19.5,"titleFontWeight":"normal","titlePadding":10,"domainColor":"#231f20","tickColor":"#231f20","labelColor":"#231f20","titleColor":"#231f20","domainWidth":1.5,"tickWidth":1.5,"grid":false,"labelFlush":false,"labelOverlap":false}},
  "y":{"field":"v","type":"quantitative","title":"-ΔT/T","axis":{"values":[-0.005,-0.0025,0,0.0025,0.005,0.0075,0.01,0.0125,0.015,0.0175,0.02,0.0225,0.025],"labelExpr":"round(datum.value*10000) % 50 == 0 ? replace(format(datum.value,'.3f'),'\u2212','-') : ''","tickSize":6,"labelPadding":4,"labelFontSize":19.5,"labelFont":"Liberation Sans","titleFont":"Liberation Sans","titleFontSize":20,"titleFontWeight":"normal","titleX":-80,"titleY":217,"domainColor":"#231f20","tickColor":"#231f20","labelColor":"#231f20","titleColor":"#231f20","domainWidth":1.5,"tickWidth":1.5,"grid":false,"labelFlush":false,"labelOverlap":false}},
  "color":{"field":"s","type":"nominal","scale":{"domain":["+1500 fs","+1300 fs","+1100 fs","+900 fs","+700 fs","+500 fs","+300 fs","+100 fs","-100 fs","-300 fs"],"range":["#e8262b","#e6198d","#f5972f","#1eaa50","#0a9f48","#10979c","#2c3290","#33409a","#8e2d91","#83288d"]},
   "legend":{"orient":"none","legendX":294,"legendY":18,"title":null,"symbolType":"stroke","symbolSize":1936,"symbolStrokeWidth":2,"labelFontSize":21,"labelFont":"Liberation Sans","labelOffset":6,"labelColor":"#231f20","labelLimit":300,"clipHeight":34,"rowPadding":0.17,"padding":0}}}},
{"data":{"name":"hr"},"mark":{"type":"rule","color":"#231f20","strokeWidth":1.5},
 "encoding":{"x":{"field":"a","type":"quantitative","title":"Wavenumber (cm⁻¹)"},"x2":{"field":"b"},"y":{"field":"v","type":"quantitative","title":"-ΔT/T"}}},
{"data":{"name":"lab"},"mark":{"type":"text","fontSize":22.5,"font":"Liberation Sans","color":"#231f20","align":"center","baseline":"alphabetic"},
 "encoding":{"x":{"field":"w","type":"quantitative","title":"Wavenumber (cm⁻¹)"},"y":{"field":"v","type":"quantitative","title":"-ΔT/T"},"text":{"field":"t"}}}
]
}
